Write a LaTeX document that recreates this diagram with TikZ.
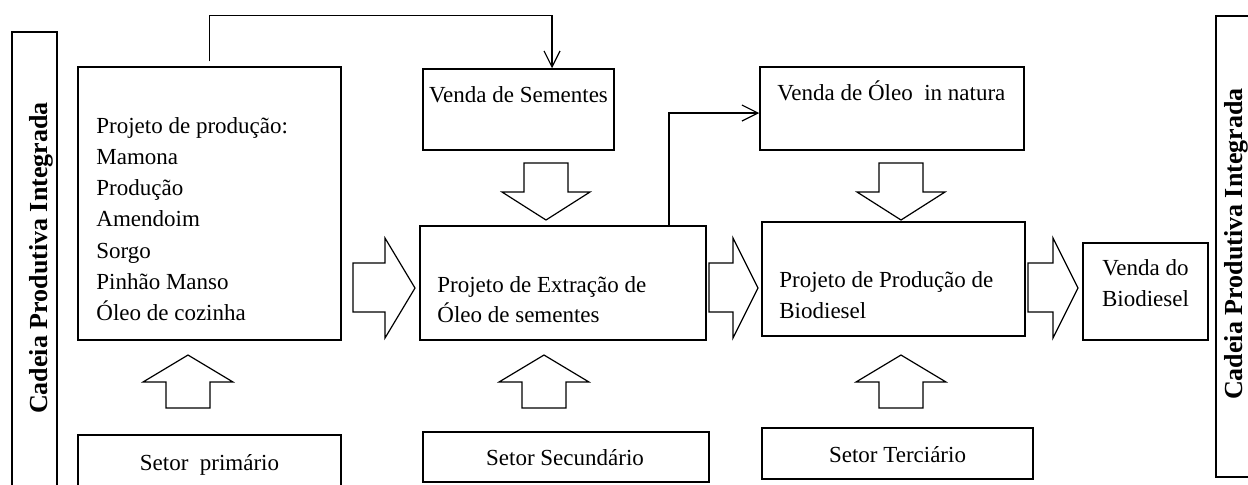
\documentclass[tikz,border=0pt]{standalone}
\usepackage{fontspec}
\setmainfont{Liberation Serif}
\usetikzlibrary{arrows.meta}

\begin{document}
\begin{tikzpicture}[x=0.5pt,y=0.5pt,yscale=-1,
    frame/.style 2 args={draw, line width=0.75pt, inner sep=0pt,
      minimum width=#1*0.5pt, minimum height=#2*0.5pt},
    txt/.style={inner sep=0pt, font=\fontsize{11.5}{14}\selectfont},
    side/.style={inner sep=0pt, rotate=90, font=\fontsize{13}{15}\selectfont\bfseries},
    link/.style={line width=0.6pt, -{Straight Barb[length=8pt,width=8pt]}},
    blk/.style={draw, line width=0.6pt, fill=white}]
  \clip (0,0) rectangle (1248,484);
  % side bars
  \node[frame={45}{478}] (lbar) at (34.5,271) {};
  \node[frame={54}{461}] (rbar) at (1243,246.5) {};
  \node[side, anchor=base] (ltxt) at (47,258) {Cadeia Produtiva Integrada};
  \node[side, anchor=base] (rtxt) at (1242,244) {Cadeia Produtiva Integrada};
  % boxes
  \node[frame={263}{273}] (prod) at (209.5,203.5) {};
  \node[frame={191}{81}] (sem) at (518.5,109.5) {};
  \node[frame={286}{114}] (ext) at (563,283) {};
  \node[frame={264}{83}] (oleo) at (892,108.5) {};
  \node[frame={263}{114}] (bio) at (893.5,279) {};
  \node[frame={125}{97}] (venda) at (1145.5,291.5) {};
  \node[frame={263}{70}] (prim) at (209.5,470) {};
  \node[frame={286}{50}] (sec) at (566,457) {};
  \node[frame={271}{51}] (ter) at (897.5,453.5) {};
  % texts
  \foreach \t [count=\i from 0] in {Projeto de produção:, Mamona, Produção,
      Amendoim, Sorgo, Pinhão Manso, Óleo de cozinha}
    \node[txt, anchor=base west] (p\i) at (96,133+31.3*\i) {\t};
  \node[txt, anchor=base] (semtxt) at (518.5,102) {Venda de Sementes};
  \node[txt, anchor=base west] (ext1) at (437,292) {Projeto de Extração de};
  \node[txt, anchor=base west] (ext2) at (437,322) {Óleo de sementes};
  \node[txt, anchor=base west] (oleotxt) at (777,100) {Venda de Óleo\ \ in natura};
  \node[txt, anchor=base west] (bio1) at (779,287) {Projeto de Produção de};
  \node[txt, anchor=base west] (bio2) at (779,318) {Biodiesel};
  \node[txt, anchor=base] (venda1) at (1145.5,275) {Venda do};
  \node[txt, anchor=base] (venda2) at (1145.5,306) {Biodiesel};
  \node[txt, anchor=base] (primtxt) at (209.5,470) {Setor\ \ primário};
  \node[txt, anchor=base] (sectxt) at (565,465) {Setor Secundário};
  \node[txt, anchor=base] (tertxt) at (897.5,462) {Setor Terciário};
  % connectors
  \draw[link, shorten <=2.5pt] (prod.north) -- ++(0,-51) -| ([xshift=16.75pt]sem.north);
  \draw[link] ([xshift=53pt]ext.north) |- ([yshift=2.25pt]oleo.west);
  % block arrows
  \foreach \x/\s/\e in {353/385/415, 709/733/758, 1028/1053/1078}
    \draw[blk] (\x,263) -- (\s,263) -- (\s,238) -- (\e,288)
      -- (\s,338) -- (\s,312) -- (\x,312) -- cycle;
  \foreach \c in {546,901}
    \draw[blk] (\c-22,163) -- (\c+22,163) -- (\c+22,192) -- (\c+44,192)
      -- (\c,220) -- (\c-44,192) -- (\c-22,192) -- cycle;
  \foreach \c in {188,544,901}
    \draw[blk] (\c-22,408) -- (\c+22,408) -- (\c+22,382) -- (\c+45,382)
      -- (\c,355) -- (\c-45,382) -- (\c-22,382) -- cycle;
\end{tikzpicture}
\end{document}
